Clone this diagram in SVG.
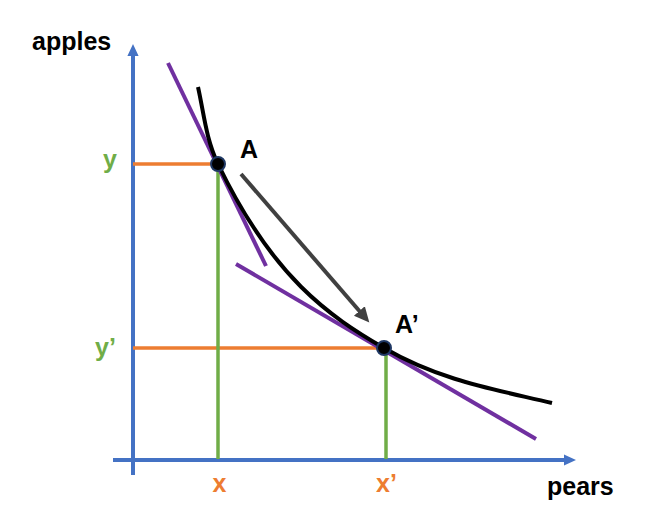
<svg xmlns="http://www.w3.org/2000/svg" width="658" height="530" viewBox="0 0 658 530">
<style>
  .lbl { font-family: "Liberation Sans", Arial, sans-serif; font-weight: bold; font-size: 25px; }
  .axis { stroke: #4472C4; stroke-width: 4; fill: none; }
  .guideH { stroke: #ED7D31; stroke-width: 3.5; fill: none; }
  .guideV { stroke: #70AD47; stroke-width: 3.5; fill: none; }
  .tan { stroke: #7030A0; stroke-width: 4; fill: none; stroke-linecap: butt; }
  .curve { stroke: #000000; stroke-width: 4; fill: none; }
  .dot { fill: #000000; stroke: #1F3864; stroke-width: 2; }
</style>
<defs>
  <marker id="axisHead" markerWidth="4" markerHeight="4" refX="1" refY="2" orient="auto" markerUnits="strokeWidth">
    <path d="M0,0.6 L3,2 L0,3.4 z" fill="#4472C4"/>
  </marker>
  <marker id="moveHead" markerWidth="5" markerHeight="5" refX="1" refY="2.5" orient="auto" markerUnits="strokeWidth">
    <path d="M0,0.7 L3.8,2.5 L0,4.3 z" fill="#404040"/>
  </marker>
</defs>
<rect width="658" height="530" fill="#ffffff"/>
<g id="axes">
  <line class="axis" x1="133" y1="475" x2="133" y2="52" marker-end="url(#axisHead)"/>
  <line class="axis" x1="113" y1="460" x2="568" y2="460" marker-end="url(#axisHead)"/>
  <text class="lbl" x="32" y="50" fill="#000">apples</text>
  <text class="lbl" x="547" y="495" fill="#000">pears</text>
</g>
<g id="guides">
  <line class="guideH" x1="133" y1="164" x2="218" y2="164"/>
  <line class="guideH" x1="133" y1="348" x2="384" y2="348"/>
  <line class="guideV" x1="218" y1="164" x2="218" y2="459"/>
  <line class="guideV" x1="386" y1="348" x2="386" y2="459"/>
  <text class="lbl" x="110" y="168" fill="#70AD47" text-anchor="middle">y</text>
  <text class="lbl" x="95" y="356" fill="#70AD47">y’</text>
  <text class="lbl" x="219.5" y="492" fill="#ED7D31" text-anchor="middle">x</text>
  <text class="lbl" x="376" y="492" fill="#ED7D31">x’</text>
</g>
<g id="tangents">
  <line class="tan" x1="168" y1="63" x2="266" y2="266"/>
  <line class="tan" x1="236" y1="264" x2="536" y2="439"/>
</g>
<g id="indifference-curve">
  <path class="curve" d="M198,87 C204,114 206,139 218,164 C273,278 329,316 384,348 C440,380.7 496,389.6 552,403"/>
</g>
<g id="connectors">
  <line x1="241" y1="174" x2="362" y2="314" stroke="#404040" stroke-width="4" marker-end="url(#moveHead)"/>
</g>
<g id="point-A">
  <circle class="dot" cx="218" cy="164" r="7"/>
  <text class="lbl" x="240" y="158" fill="#000">A</text>
</g>
<g id="point-A-prime">
  <circle class="dot" cx="384" cy="348" r="7"/>
  <text class="lbl" x="395" y="333" fill="#000">A’</text>
</g>
</svg>
